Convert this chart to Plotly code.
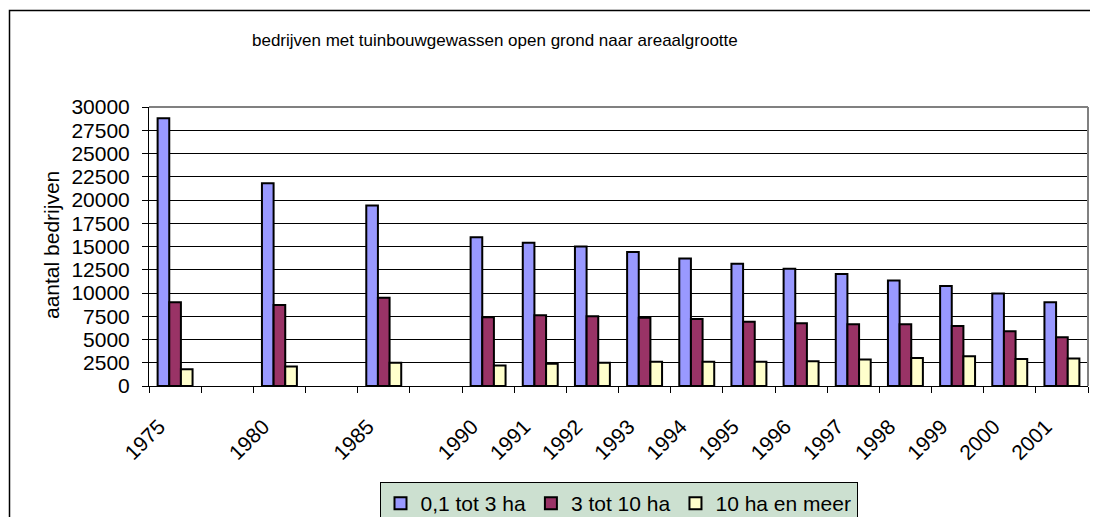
import plotly.graph_objects as go

categories = ["1975", " ", "1980", "  ", "1985", "   ", "1990", "1991", "1992", "1993",
              "1994", "1995", "1996", "1997", "1998", "1999", "2000", "2001"]
small = [28800, None, 21800, None, 19400, None, 16000, 15400, 15000, 14400,
         13700, 13150, 12600, 12050, 11350, 10750, 9950, 9000]
medium = [9000, None, 8700, None, 9500, None, 7400, 7600, 7500, 7350,
          7200, 6900, 6750, 6650, 6650, 6450, 5900, 5250]
large = [1800, None, 2100, None, 2500, None, 2200, 2400, 2500, 2600,
         2600, 2600, 2650, 2850, 3000, 3200, 2900, 2950]
series_names = ["0,1 tot 3 ha", "3 tot 10 ha", "10 ha en meer"]
series_colors = ["#9999FF", "#993366", "#FFFFCC"]
y_ticks = list(range(0, 30001, 2500))

FONT = "Liberation Sans, Arial, sans-serif"
OFF = 8  # page body margin
W, H = 1098 - OFF, 517 - OFF
L = 149 - OFF
T = 107 - OFF
R = W - (1088 - OFF)
B = H - (386 - OFF)
PW, PH = W - L - R, H - T - B

def px(x):
    return (x - OFF - L) / PW

def py(y):
    return (H - B - (y - OFF)) / PH

fig = go.Figure()
for name, vals, col in zip(series_names, [small, medium, large], series_colors):
    fig.add_trace(go.Bar(
        x=categories, y=vals, name=name,
        marker=dict(color=col, line=dict(color="black", width=2)),
    ))

fig.update_layout(
    width=W, height=H,
    margin=dict(l=L, r=R, t=T, b=B, autoexpand=False),
    paper_bgcolor="white", plot_bgcolor="white",
    font=dict(family=FONT, size=21, color="black"),
    barmode="group", bargap=0.33, bargroupgap=0,
    showlegend=True,
    legend=dict(
        orientation="h", x=0.5, xanchor="center", y=py(482), yanchor="top",
        bgcolor="#CCE0D0", bordercolor="black", borderwidth=1,
        font=dict(family=FONT, size=21, color="black"),
        traceorder="normal",
    ),
    xaxis=dict(
        type="category", categoryorder="array", categoryarray=categories,
        tickangle=-45, ticks="outside", ticklen=6, tickcolor="black",
        tickson="boundaries", showline=True, linecolor="black", linewidth=1,
        showgrid=False, tickfont=dict(family=FONT, size=21),
        ticklabelstandoff=19, ticklabelshift=-16,
    ),
    yaxis=dict(
        range=[0, 30000], tickvals=y_ticks, ticktext=[str(v) for v in y_ticks],
        ticks="outside", ticklen=6, tickcolor="black",
        showline=True, linecolor="black", linewidth=1,
        showgrid=True, gridcolor="black", gridwidth=1,
        zeroline=False, tickfont=dict(family=FONT, size=21),
        ticklabelstandoff=8,
    ),
    annotations=[
        dict(text="bedrijven met tuinbouwgewassen open grond naar areaalgrootte",
             xref="paper", yref="paper", x=px(495), y=py(40),
             xanchor="center", yanchor="middle", showarrow=False,
             font=dict(family=FONT, size=17, color="black")),
        dict(text="aantal bedrijven", textangle=-90,
             xref="paper", yref="paper", x=px(51), y=py(245),
             xanchor="center", yanchor="middle", showarrow=False,
             font=dict(family=FONT, size=21, color="black")),
    ],
    shapes=[
        dict(type="rect", xref="paper", yref="paper",
             x0=px(9.5), x1=px(1120), y0=py(540), y1=py(10.5),
             line=dict(color="black", width=1.5), fillcolor="rgba(0,0,0,0)", layer="below"),
        dict(type="line", xref="paper", yref="paper", x0=0, x1=1, y0=1, y1=1,
             line=dict(color="#808080", width=2)),
        dict(type="line", xref="paper", yref="paper", x0=1, x1=1, y0=0, y1=1,
             line=dict(color="#808080", width=2)),
    ],
)

fig.write_html("out.html")
